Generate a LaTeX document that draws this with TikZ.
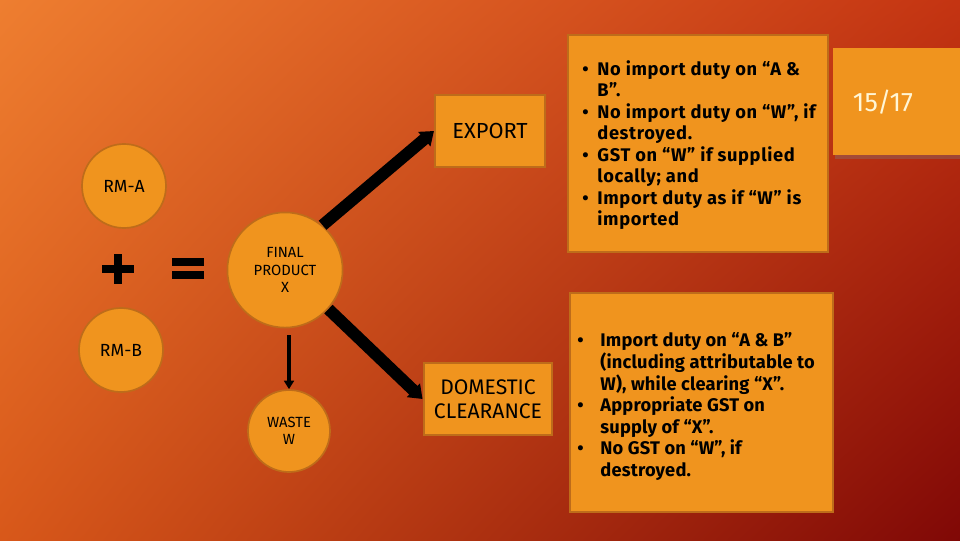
\documentclass[tikz,border=0pt]{standalone}
\usepackage{fontspec}
\setmainfont{Fira Sans}
\usepackage{tikz}
\usetikzlibrary{arrows.meta,positioning,shadows,shadings}
\definecolor{bgtl}{RGB}{238,126,48}
\definecolor{bgtr}{RGB}{196,52,18}
\definecolor{bgbl}{RGB}{216,88,26}
\definecolor{bgbr}{RGB}{128,8,6}
\definecolor{boxfill}{RGB}{240,148,30}
\definecolor{boxline}{RGB}{190,108,26}
\definecolor{pagetxt}{RGB}{255,246,214}
\tikzset{
	x=0.25mm, y=-0.25mm,
	>={Triangle[length=9pt,width=13pt]}, % block arrow heads
	circ/.style={circle, draw=boxline, line width=1.2pt, fill=boxfill, align=center, inner sep=0pt, font=\fontsize{12.5}{14}\selectfont},
	box/.style={rectangle, draw=boxline, line width=1.5pt, fill=boxfill, align=center, inner sep=0pt, font=\fontsize{15.5}{17.5}\selectfont},
	note/.style={rectangle, draw=boxline, line width=1.5pt, fill=boxfill, inner sep=0pt},
	notetext/.style={anchor=base west, inner sep=0pt, font=\bfseries\fontsize{13}{15.3}\selectfont},
	bigarrow/.style={->, line width=8.5pt, black},
	sign/.style={line width=6pt, black},
}
\begin{document}
\begin{tikzpicture}
	\useasboundingbox (0,0) rectangle (960,540);
	\shade[upper left=bgtl, upper right=bgtr, lower left=bgbl, lower right=bgbr] (0,0) rectangle (960,540);

	% raw materials and product
	\node[circ, minimum size=21mm] (rma) at (124,186) {RM-A};
	\node[circ, minimum size=21mm] (rmb) at (121,350) {RM-B};
	\node[circ, minimum size=28.8mm, font=\fontsize{10.5}{12.5}\selectfont] (final) at (285,270) {FINAL\\PRODUCT\\X};
	\node[circ, minimum size=20.5mm, font=\fontsize{10.5}{12.5}\selectfont] (waste) at (289,431) {WASTE\\W};

	% plus and equals
	\draw[sign] (102,269) -- (134,269) (118,254) -- (118,284);
	\draw[sign] (172,262) -- (204,262) (172,275) -- (204,275);

	% outcomes
	\node[box, minimum width=27.5mm, minimum height=18mm] (export) at (490,131) {EXPORT};
	\node[box, minimum width=32.2mm, minimum height=18mm, font=\fontsize{15}{17}\selectfont] (domestic) at (488,399) {DOMESTIC\\CLEARANCE};

	\draw[bigarrow] (final.50) -- (export.west);
	\draw[bigarrow] (final.-42) -- (domestic.west);
	\draw[->, line width=2.5pt, >={Triangle[length=6pt,width=7pt]}] (waste.north |- final.south) ++(0,7) -- (waste.north);

	% notes
	\node[note, minimum width=65mm, minimum height=54.3mm] (topnote) at (698,143.5) {};
	\node[notetext] (toptext) at (582,75) {\addfontfeatures{LetterSpace=3.5}%
		\begin{tabular}[t]{@{}l@{\hspace{2.2mm}}l@{}}
		\textbullet & No import duty on “A \& \\
		 & B”. \\
		\textbullet & No import duty on “W”, if \\
		 & destroyed. \\
		\textbullet & GST on “W” if supplied \\
		 & locally; and \\
		\textbullet & Import duty as if “W” is \\
		 & imported
		\end{tabular}};

	\node[note, minimum width=65.7mm, minimum height=54.7mm] (botnote) at (701.5,402.5) {};
	\node[notetext] (bottext) at (577,346) {\addfontfeatures{LetterSpace=1}%
		\begin{tabular}[t]{@{}l@{\hspace{4.2mm}}l@{}}
		\textbullet & Import duty on “A \& B” \\
		 & (including attributable to \\
		 & W), while clearing “X”. \\
		\textbullet & Appropriate GST on \\
		 & supply of “X”. \\
		\textbullet & No GST on “W”, if \\
		 & destroyed.
		\end{tabular}};

	% page number
	\fill[boxfill, drop shadow={shadow xshift=0.6mm, shadow yshift=-0.9mm, opacity=0.35}] (833,48) rectangle (966,155);
	\node[text=pagetxt, font=\fontsize{19}{22}\selectfont] (page) at (883,102) {15/17};
\end{tikzpicture}
\end{document}
